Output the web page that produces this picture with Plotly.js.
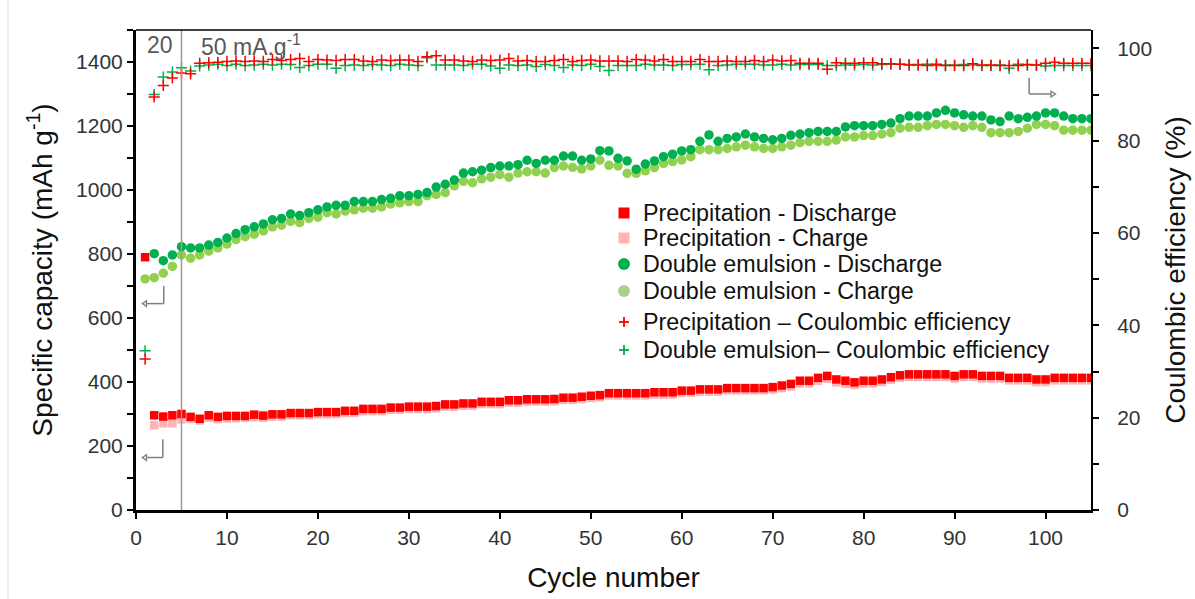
<!DOCTYPE html>
<html>
<head>
<meta charset="utf-8">
<script src="https://cdn.plot.ly/plotly-3.0.1.min.js"></script>
<style>html,body{margin:0;padding:0;background:#fff;}#chart{width:1195px;height:599px;}</style>
</head>
<body>
<div id="chart"></div>
<script>
// Cycle numbers 1..105
const cycles = [1,2,3,4,5,6,7,8,9,10,11,12,13,14,15,16,17,18,19,20,21,22,23,24,25,26,27,28,29,30,31,32,33,34,35,36,37,38,39,40,41,42,43,44,45,46,47,48,49,50,51,52,53,54,55,56,57,58,59,60,61,62,63,64,65,66,67,68,69,70,71,72,73,74,75,76,77,78,79,80,81,82,83,84,85,86,87,88,89,90,91,92,93,94,95,96,97,98,99,100,101,102,103,104,105];

// Precipitation - Discharge (mAh g-1)
const precipDischarge = [790,296,292,296,300,291,285,296,291,294,294,294,298,295,299,299,303,303,303,306,306,306,310,310,316,316,316,320,320,323,323,323,325,330,330,333,333,338,338,338,343,343,346,346,346,347,351,351,354,357,359,365,365,365,365,365,368,368,368,373,373,377,377,377,381,381,381,381,381,384,389,394,404,404,413,419,408,404,399,404,404,408,415,421,424,424,424,424,424,419,424,424,419,419,419,413,413,413,408,408,413,413,413,413,413];

// Precipitation - Charge (mAh g-1)
const precipCharge = [null,265,271,271,283,285,280,288,284,286,287,288,290,288,292,292,296,296,296,299,299,300,303,303,309,309,309,313,313,316,316,316,318,323,323,326,326,331,331,331,336,336,339,339,339,340,344,344,347,350,352,358,358,358,358,358,361,361,361,366,366,370,370,370,374,374,374,374,374,377,381,386,396,396,404,410,399,395,391,396,396,400,407,413,416,416,416,416,416,411,416,416,411,411,411,405,405,405,400,400,405,405,405,405,405];

// Double emulsion - Discharge (mAh g-1)
const emulDischarge = [null,801,779,797,823,819,819,828,836,850,864,876,885,894,907,911,925,920,929,938,947,952,952,964,964,964,970,974,982,982,986,992,1009,1018,1031,1053,1057,1062,1070,1075,1075,1079,1093,1083,1093,1093,1106,1106,1093,1097,1123,1122,1099,1091,1065,1081,1091,1104,1112,1122,1126,1152,1172,1152,1161,1166,1175,1166,1161,1157,1161,1171,1175,1179,1183,1183,1183,1197,1201,1201,1201,1205,1209,1223,1231,1231,1231,1241,1249,1241,1235,1231,1231,1219,1214,1231,1223,1227,1231,1241,1241,1231,1223,1223,1223];

// Double emulsion - Charge (mAh g-1)
const emulCharge = [722,726,740,761,797,787,797,809,819,831,845,854,862,872,885,890,902,898,911,915,929,925,934,938,943,943,947,956,960,964,964,982,986,992,1013,1027,1023,1035,1040,1048,1040,1053,1057,1057,1053,1070,1075,1071,1066,1075,1093,1077,1075,1052,1052,1060,1070,1083,1089,1094,1104,1126,1126,1126,1130,1135,1140,1135,1130,1130,1135,1140,1148,1152,1152,1152,1156,1166,1166,1170,1170,1175,1179,1193,1196,1196,1201,1205,1205,1201,1196,1201,1196,1179,1179,1179,1183,1193,1205,1205,1201,1187,1187,1187,1187];

// Precipitation - Coulombic efficiency (%)
const precipCE = [32.7,89.5,92,93.6,94.7,94.5,96.8,96.9,97,97.2,97.3,97.2,97.3,97.2,97.6,97.4,97.6,97.8,97.2,97.6,97.5,97.4,97.6,97.6,97.3,97.2,97.5,97.4,97.5,97.5,97.2,98.2,98.4,97.5,97.5,97.3,97.2,97.5,97.4,97.5,97.8,97.3,97.4,97.2,97.2,97.4,97.6,97.2,97.4,97.5,97.3,97.3,97.3,97.2,97.6,97.5,97.3,97.6,97.2,97.2,97.2,97.6,97.2,97.2,97.3,97.2,97.2,97.4,97.2,97.5,97.3,97.4,96.8,96.8,96.8,95.5,96.9,96.8,96.8,96.9,96.9,96.7,96.7,96.6,96.4,96.4,96.3,96.6,96.3,96.3,96.3,96.7,96.4,96.4,96.3,96.3,96.3,96.5,96.4,96.8,97,96.8,96.8,96.8,96.8];

// Double emulsion - Coulombic efficiency (%)
const emulCE = [34.5,90,93.8,94.9,95.8,95.1,96.2,96.4,96.6,96.3,96.6,96.3,96.4,96.6,96.4,96.6,96.5,95.9,96.3,96.6,96.6,95.7,96.3,96.4,96.3,96.5,96.4,96.3,96.6,96.4,96.3,98,96.4,96.4,96.4,96.3,96.6,96.6,96.2,95.7,96.4,96.3,96.4,96.1,96.5,96.3,95.9,96.4,96.3,96.6,96.1,95.2,96.3,96.3,96.3,96.6,96.4,96.4,96.3,96.5,96.5,96.6,95.4,96.3,96.4,96.6,96.6,96.6,96.4,96.4,96.6,96.4,96.5,96.5,96.5,96.3,96.3,96.4,96.4,96.5,96.4,96.5,96.6,96.6,96.5,96.5,96.6,96.3,96.4,96.4,96.5,96.4,96.3,96.3,96.4,95.7,96.6,96.4,96.4,96.2,96.3,96.3,96.3,96.3,96.3];

// Axis settings
const xTicks = [0,10,20,30,40,50,60,70,80,90,100];
const currentSwitchCycle = 5;

// Legend entries (label, marker kind, colour)
const legendLabels = ['Precipitation - Discharge','Precipitation - Charge','Double emulsion - Discharge','Double emulsion - Charge','Precipitation – Coulombic efficiency','Double emulsion– Coulombic efficiency'];
const legendKinds = ['square','square','circle','circle','cross','cross'];
const legendColors = ['#FF0000','#FFB3B3','#00B050','#A9D18E','#FF0000','#00B050'];

const FONT = 'Liberation Sans, Arial, sans-serif';

const traces = [
  {x: cycles, y: emulCharge, name: legendLabels[3], type: 'scatter', mode: 'markers',
   marker: {symbol: 'circle', size: 9.5, color: '#92D050'}},
  {x: cycles, y: emulDischarge, name: legendLabels[2], type: 'scatter', mode: 'markers',
   marker: {symbol: 'circle', size: 9.5, color: '#00B050'}},
  {x: cycles, y: precipCharge, name: legendLabels[1], type: 'scatter', mode: 'markers',
   marker: {symbol: 'square', size: 8.5, color: '#FFB3B3'}},
  {x: cycles, y: precipDischarge, name: legendLabels[0], type: 'scatter', mode: 'markers',
   marker: {symbol: 'square', size: 8.5, color: '#FF0000'}},
  {x: cycles, y: emulCE, name: legendLabels[5], type: 'scatter', mode: 'markers', yaxis: 'y2',
   marker: {symbol: 'cross-thin', size: 8, line: {color: '#00B050', width: 1.5}}},
  {x: cycles, y: precipCE, name: legendLabels[4], type: 'scatter', mode: 'markers', yaxis: 'y2',
   marker: {symbol: 'cross-thin', size: 8, line: {color: '#FF0000', width: 1.5}}}
];

function arrowShapes(xv, yTop, yBot, xEnd, xTip, yRef, hh) {
  const col = '#7f7f7f';
  return [
    {type: 'line', xref: 'x', yref: yRef, x0: xv, x1: xv, y0: yTop, y1: yBot, line: {color: col, width: 1.5}},
    {type: 'line', xref: 'x', yref: yRef, x0: xv, x1: xEnd, y0: yBot, y1: yBot, line: {color: col, width: 1.5}},
    {type: 'path', xref: 'x', yref: yRef,
     path: `M ${xEnd} ${yBot - hh} L ${xTip} ${yBot} L ${xEnd} ${yBot + hh} Z`,
     line: {color: col, width: 1.3}, fillcolor: 'rgba(255,255,255,1)'}
  ];
}

// Manual legend placement (plot area: 136..1091 px wide, 30..510 px tall)
const plotL = 136, plotW = 955, plotB = 510, plotH = 480;
const legendRowsPx = [213, 238, 264, 291, 322, 350];
const legMarkerX = (624 - plotL) / plotW;
const legTextX = (641 - plotL) / plotW;

const legendShapes = [];
const legendAnn = [];
legendLabels.forEach((lab, i) => {
  const py = (plotB - legendRowsPx[i]) / plotH;
  const k = legendKinds[i], c = legendColors[i];
  const base = {xref: 'paper', yref: 'paper', xsizemode: 'pixel', ysizemode: 'pixel', xanchor: legMarkerX, yanchor: py};
  if (k === 'square') {
    legendShapes.push(Object.assign({type: 'rect', x0: -5.5, x1: 5.5, y0: -5.5, y1: 5.5, fillcolor: c, line: {width: 0}}, base));
  } else if (k === 'circle') {
    legendShapes.push(Object.assign({type: 'circle', x0: -6, x1: 6, y0: -6, y1: 6, fillcolor: c, line: {width: 0}}, base));
  } else {
    legendShapes.push(Object.assign({type: 'line', x0: -5, x1: 5, y0: 0, y1: 0, line: {color: c, width: 1.8}}, base));
    legendShapes.push(Object.assign({type: 'line', x0: 0, x1: 0, y0: -5, y1: 5, line: {color: c, width: 1.8}}, base));
  }
  legendAnn.push({xref: 'paper', yref: 'paper', x: legTextX, y: py, text: lab, showarrow: false,
    xanchor: 'left', yanchor: 'middle', font: {family: FONT, size: 23.3, color: '#111'}});
});

const shapes = [
  {type: 'line', xref: 'x', yref: 'paper', x0: currentSwitchCycle, x1: currentSwitchCycle, y0: 0, y1: 1,
   line: {color: '#9a9a9a', width: 1.5}},
  {type: 'line', xref: 'paper', yref: 'paper', x0: 0, x1: 1, y0: 1, y1: 1, line: {color: '#000', width: 1.5}},
  {type: 'line', xref: 'paper', yref: 'paper', x0: -0.134, x1: -0.134, y0: -0.19, y1: 1.07, line: {color: '#e3e3e3', width: 1}},
  ...arrowShapes(3.05, 700, 645, 1.15, 0.7, 'y', 9),
  ...arrowShapes(2.95, 221, 164, 1.15, 0.7, 'y', 9),
  ...arrowShapes(98.2, 1350, 1300, 100.6, 101.1, 'y', 9),
  ...legendShapes
];

const annotations = [
  {xref: 'x', yref: 'paper', x: 2.6, y: 0.968, text: '20', showarrow: false,
   font: {family: FONT, size: 23, color: '#595959'}, xanchor: 'center', yanchor: 'middle'},
  {xref: 'x', yref: 'paper', x: 6.9, y: 0.968, text: '50 mA.g<sup>-1</sup>', showarrow: false,
   font: {family: FONT, size: 23, color: '#595959'}, xanchor: 'left', yanchor: 'middle'},
  ...legendAnn
];

const layout = {
  width: 1195, height: 599,
  margin: {l: 136, r: 104, t: 30, b: 89},
  paper_bgcolor: '#fff', plot_bgcolor: '#fff',
  font: {family: FONT, color: '#262626'},
  showlegend: false,
  xaxis: {range: [0, 105], tickvals: xTicks, ticks: 'outside', ticklen: 6, tickwidth: 2, tickcolor: '#000',
          showline: true, linecolor: '#000', linewidth: 3, showgrid: false, zeroline: false,
          tickfont: {family: FONT, size: 21, color: '#333'}, ticklabelstandoff: 1,
          title: {text: 'Cycle number', font: {family: FONT, size: 28, color: '#111'}, standoff: 20}},
  yaxis: {range: [0, 1500], dtick: 200, tick0: 0, ticks: 'outside', ticklen: 6, tickwidth: 2, tickcolor: '#000',
          minor: {dtick: 100, ticks: 'outside', ticklen: 6, tickwidth: 2, tickcolor: '#000'},
          showline: true, linecolor: '#000', linewidth: 3, showgrid: false, zeroline: false,
          tickfont: {family: FONT, size: 21, color: '#333'}, ticklabelstandoff: 0,
          title: {text: 'Specific capacity (mAh g<sup>-1</sup>)', font: {family: FONT, size: 28, color: '#111'}, standoff: 16}},
  yaxis2: {overlaying: 'y', side: 'right', range: [0, 104], dtick: 20, tick0: 0, ticks: 'outside', ticklen: 6, tickwidth: 2, tickcolor: '#000',
          minor: {dtick: 10, ticks: 'outside', ticklen: 6, tickwidth: 2, tickcolor: '#000'},
          showline: true, linecolor: '#000', linewidth: 2, showgrid: false, zeroline: false,
          tickfont: {family: FONT, size: 21, color: '#333'}, ticklabelstandoff: 14,
          title: {text: 'Coulombic efficiency (%)', font: {family: FONT, size: 28, color: '#111'}, standoff: 14}},
  shapes: shapes,
  annotations: annotations
};

Plotly.newPlot('chart', traces, layout, {staticPlot: true, displayModeBar: false});
</script>
</body>
</html>
